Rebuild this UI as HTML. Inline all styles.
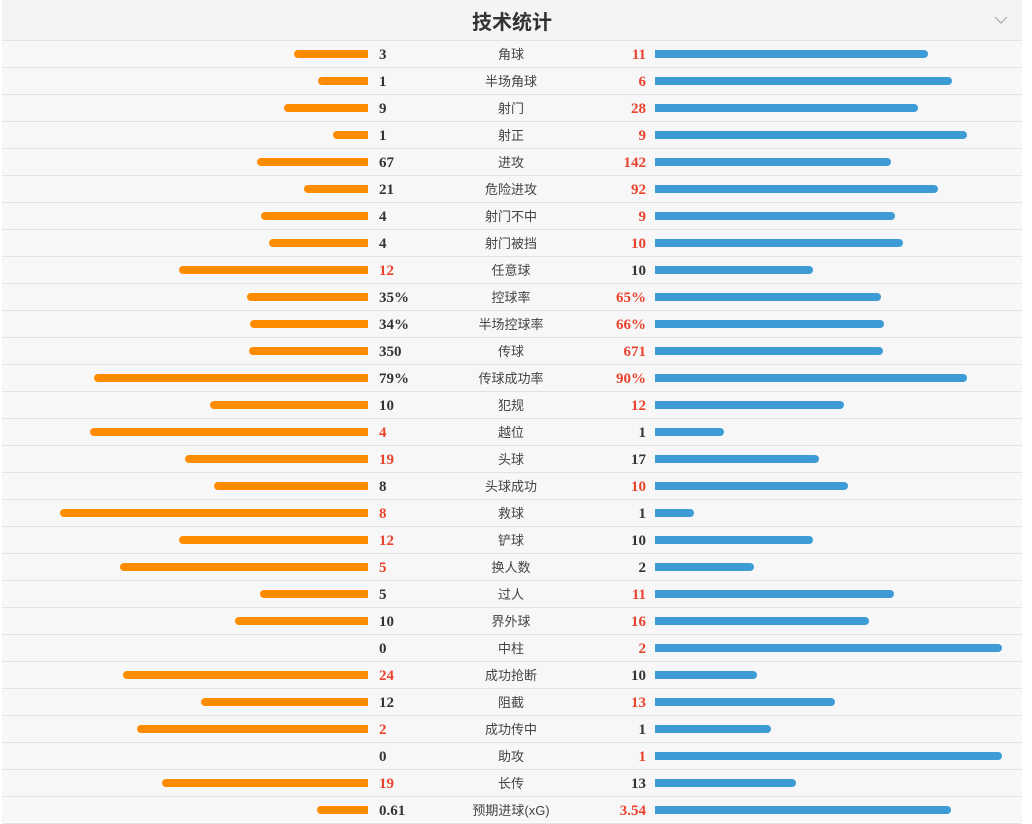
<!DOCTYPE html>
<html><head><meta charset="utf-8"><style>
body{margin:0;width:1032px;height:822px;background:#fff;overflow:hidden;font-family:"Liberation Sans","Noto Sans CJK SC",sans-serif}
#wrap{position:absolute;left:2px;top:0;width:1020px;height:822px;background:#f7f7f7}
#hdr{position:absolute;left:0;top:0;width:1020px;height:40px;background:#f4f4f4;border-bottom:1px solid #e2e2e2}
#title{position:absolute;left:0;width:1020px;top:6px;text-align:center;font-size:20px;font-weight:bold;color:#333}
.row{position:absolute;left:0;width:1020px;height:26px;border-bottom:1px solid #e2e2e2}
.bar{position:absolute;top:9px;height:8px}
.lb{background:#ff8c00;border-radius:4px 0 0 4px}
.rb{background:#3d9bd6;border-radius:0 4px 4px 0}
.v{position:absolute;top:6px;font-family:"Liberation Serif",serif;font-weight:bold;font-size:15px;color:#333}
.lv{left:377px}.rv{right:376px;text-align:right}
.red{color:#e8432d}
.lab{position:absolute;left:409px;width:200px;text-align:center;top:3px;font-size:13px;color:#444}
</style></head><body>
<div id="wrap">
<div id="hdr"><div id="title">技术统计</div>
<svg style="position:absolute;left:992px;top:16px" width="14" height="9"><polyline points="1,1 7,7 13,1" fill="none" stroke="#aaa" stroke-width="1.2"/></svg></div>
<div id="rows"></div>
</div>
<script>
const labels=["角球","半场角球","射门","射正","进攻","危险进攻","射门不中","射门被挡","任意球","控球率","半场控球率","传球","传球成功率","犯规","越位","头球","头球成功","救球","铲球","换人数","过人","界外球","中柱","成功抢断","阻截","成功传中","助攻","长传","预期进球(xG)"];
const homeVals=["3","1","9","1","67","21","4","4","12","35%","34%","350","79%","10","4","19","8","8","12","5","5","10","0","24","12","2","0","19","0.61"];
const awayVals=["11","6","28","9","142","92","9","10","10","65%","66%","671","90%","12","1","17","10","1","10","2","11","16","2","10","13","1","1","13","3.54"];
const FULL=347;
const rows=document.getElementById('rows');
labels.forEach((lab,i)=>{
  const r=document.createElement('div');r.className='row';r.style.top=(41+27*i)+'px';
  
  
  const hs=homeVals[i],as=awayVals[i];
  const pct=hs.includes('%');
  const h=parseFloat(hs),a=parseFloat(as);
  let lw,rw;
  if(pct){lw=h/100*FULL;rw=a/100*FULL;}else{const t=h+a;lw=t?h/t*FULL:0;rw=t?a/t*FULL:0;}
  const lb=document.createElement('div');lb.className='bar lb';lb.style.left=(366-lw)+'px';lb.style.width=lw+'px';
  
  
  const rb=document.createElement('div');rb.className='bar rb';rb.style.left='653px';rb.style.width=rw+'px';
  
  
  const lv=document.createElement('div');lv.className='v lv'+(h>a?' red':'');lv.textContent=hs;
  
  
  const rv=document.createElement('div');rv.className='v rv'+(a>h?' red':'');rv.textContent=as;
  
  
  const l=document.createElement('div');l.className='lab';l.textContent=lab;
  
  
  r.append(lb,lv,l,rv,rb);rows.appendChild(r);
});
</script>
</body></html>
